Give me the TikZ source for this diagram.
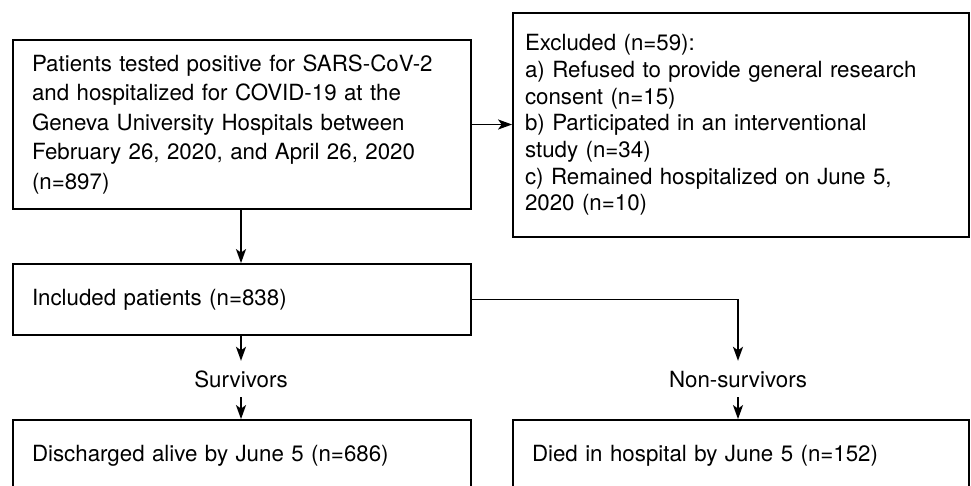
\documentclass[tikz,border=0pt]{standalone}
\usepackage{fontspec}
\setmainfont{TeX Gyre Heros}
\usetikzlibrary{arrows.meta}
\begin{document}
\begin{tikzpicture}[x=1pt,y=-1pt,
  box/.style={draw=black, line width=1.8pt, rectangle, align=left, inner xsep=19pt, inner ysep=0pt, minimum width=458pt, font=\fontsize{22.3}{29.5}\selectfont},
  lbl/.style={font=\fontsize{22.3}{26}\selectfont, text height=16pt, text depth=0pt, inner xsep=0pt, inner ysep=10pt},
  arr/.style={line width=1.8pt, -{Stealth[length=14pt,width=10pt,inset=3.5pt]}}]
\useasboundingbox (0,0) rectangle (971,485);
\node[box, text width=420pt, minimum height=169pt] (screen) at (242,124.5)
  {Patients tested positive for SARS-CoV-2\\
   and hospitalized for COVID-19 at the\\
   Geneva University Hospitals between\\
   February 26, 2020, and April 26, 2020\\
   (n=897)};
\node[box, text width=432pt, inner xsep=12pt, minimum width=456pt, minimum height=224pt, font=\fontsize{22.3}{26.7}\selectfont] (excl) at (741,125)
  {Excluded (n=59):\\
   a) Refused to provide general research\\
   consent (n=15)\\
   b) Participated in an interventional\\
   study (n=34)\\
   c) Remained hospitalized on June 5,\\
   2020 (n=10)\par\vspace{9pt}};
\node[box, text width=420pt, minimum height=71pt] (incl) at (242,299.5) {Included patients (n=838)};
\node[lbl] (surv) at (241,379) {Survivors};
\node[lbl] (nonsurv) at (738,379) {Non-survivors};
\node[box, text width=420pt, minimum height=71pt] (disch) at (242,455.5) {Discharged alive by June 5 (n=686)};
\node[box, text width=418pt, minimum width=456pt, minimum height=71pt] (died) at (741,455.5) {Died in hospital by June 5 (n=152)};
\draw[arr] (screen.east) -- (excl.west |- screen.east);
\draw[arr] (screen.south -| surv) -- (incl.north -| surv);
\draw[arr] (incl.south -| surv) -- (surv.north);
\draw[arr] (surv.south) -- (disch.north -| surv);
\draw[arr] (incl.east) -| (nonsurv.north);
\draw[arr] (nonsurv.south) -- (died.north -| nonsurv);
\end{tikzpicture}
\end{document}
